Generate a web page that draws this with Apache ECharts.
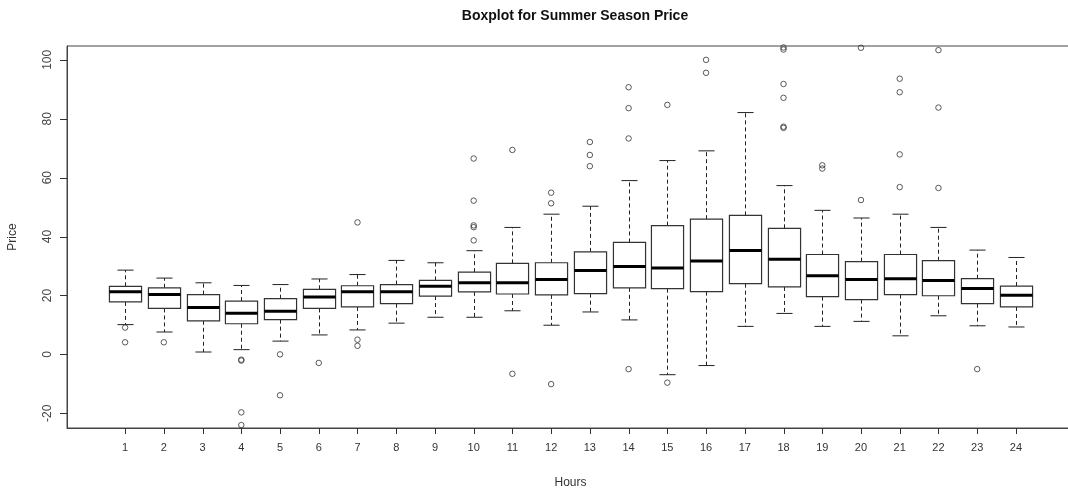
<!DOCTYPE html>
<html>
<head>
<meta charset="utf-8">
<script src="https://cdn.jsdelivr.net/npm/echarts@6/dist/echarts.min.js"></script>
<style>
html,body{margin:0;padding:0;background:#fff;}
#chart{width:1068px;height:490px;}
</style>
</head>
<body>
<div id="chart"></div>
<script>
// Hours (x categories)
const hours = ['1','2','3','4','5','6','7','8','9','10','11','12','13','14','15','16','17','18','19','20','21','22','23','24'];
// Box statistics per hour (Price)
const whiskerLow  = [10.1, 7.6, 0.8, 1.6, 4.5, 6.6, 8.3, 10.6, 12.6, 12.6, 14.8, 9.9, 14.4, 11.7, -6.9, -3.8, 9.5, 13.9, 9.5, 11.2, 6.3, 13.1, 9.7, 9.3];
const quartile1   = [17.8, 15.6, 11.4, 10.4, 11.8, 15.6, 16.1, 17.2, 19.8, 21.2, 20.5, 20.2, 20.6, 22.6, 22.3, 21.3, 24.0, 22.9, 19.6, 18.6, 20.3, 19.9, 17.2, 16.1];
const medians     = [21.3, 20.3, 15.9, 14.0, 14.6, 19.5, 21.3, 21.3, 23.1, 24.3, 24.3, 25.4, 28.5, 29.8, 29.3, 31.7, 35.3, 32.3, 26.7, 25.4, 25.7, 25.1, 22.4, 20.1];
const quartile3   = [23.1, 22.6, 20.3, 18.1, 18.9, 22.1, 23.3, 23.7, 25.1, 27.9, 30.9, 31.1, 34.8, 38.0, 43.7, 45.9, 47.2, 42.8, 33.9, 31.5, 33.9, 31.8, 25.7, 23.2];
const whiskerHigh = [28.6, 25.9, 24.3, 23.4, 23.7, 25.6, 27.1, 31.9, 31.1, 35.2, 43.1, 47.6, 50.3, 59.0, 65.8, 69.1, 82.1, 57.3, 48.9, 46.3, 47.6, 43.1, 35.4, 32.9];
// Outliers per hour
const outliers = [
  [9.1, 4.1],
  [4.1],
  [],
  [-1.8, -2.1, -19.7, -24.0],
  [0.0, -13.9],
  [-2.9],
  [44.8, 5.0, 2.9],
  [],
  [],
  [66.5, 52.2, 43.8, 43.2, 38.7],
  [69.4, -6.6],
  [54.9, 51.3, -10.1],
  [72.1, 67.7, 63.9],
  [90.7, 83.6, 73.3, -5.0],
  [84.7, -9.6],
  [100.0, 95.6],
  [],
  [104.2, 103.5, 91.8, 87.1, 77.3, 76.9],
  [64.2, 63.1],
  [104.1, 52.4],
  [93.6, 89.0, 67.9, 56.8],
  [103.3, 83.8, 56.5],
  [-5.0],
  []
];
const yTicks = [-20, 0, 20, 40, 60, 80, 100];
const yMin = -25, yMax = 104.7;

// one empty slot on each side of the hours, as in the original plot frame
const axisCategories = [''].concat(hours, ['']);
const boxData = hours.map((h, i) => [i + 1, whiskerLow[i], quartile1[i], medians[i], quartile3[i], whiskerHigh[i]]);
const outlierData = [];
hours.forEach((h, i) => outliers[i].forEach(v => outlierData.push([i + 1, v])));

function renderBox(params, api) {
  const x = api.value(0);
  const lo = api.coord([x, api.value(1)]);
  const b1 = api.coord([x, api.value(2)]);
  const md = api.coord([x, api.value(3)]);
  const b3 = api.coord([x, api.value(4)]);
  const hi = api.coord([x, api.value(5)]);
  const w = api.size([1, 0])[0] * 0.83;
  const cx = Math.round(lo[0]) + 0.5;
  const line = '#222';
  return {
    type: 'group',
    children: [
      {type: 'line', shape: {x1: cx, y1: b3[1], x2: cx, y2: hi[1]}, style: {stroke: line, lineWidth: 1, lineDash: [4, 3]}},
      {type: 'line', shape: {x1: cx, y1: b1[1], x2: cx, y2: lo[1]}, style: {stroke: line, lineWidth: 1, lineDash: [4, 3]}},
      {type: 'line', shape: {x1: cx - w / 4, y1: hi[1], x2: cx + w / 4, y2: hi[1]}, style: {stroke: line, lineWidth: 1}},
      {type: 'line', shape: {x1: cx - w / 4, y1: lo[1], x2: cx + w / 4, y2: lo[1]}, style: {stroke: line, lineWidth: 1}},
      {type: 'rect', shape: {x: cx - w / 2, y: b3[1], width: w, height: b1[1] - b3[1]}, style: {fill: '#fff', stroke: '#333', lineWidth: 1.2}},
      {type: 'line', shape: {x1: cx - w / 2, y1: md[1], x2: cx + w / 2, y2: md[1]}, style: {stroke: '#000', lineWidth: 3}}
    ]
  };
}

const gridLeft = 67;
const chart = echarts.init(document.getElementById('chart'), null, {renderer: 'canvas'});
chart.setOption({
  animation: false,
  backgroundColor: '#fff',
  title: {
    text: 'Boxplot for Summer Season Price',
    left: 570, top: 4, textAlign: 'center',
    textStyle: {fontFamily: 'Liberation Sans', fontSize: 14, fontWeight: 'bold', color: '#111'}
  },
  grid: {left: gridLeft, top: 46, right: -6, bottom: 62, show: true, borderColor: '#444', borderWidth: 1,
         backgroundColor: 'transparent', containLabel: false, outerBoundsMode: 'none'},
  xAxis: {
    type: 'category', data: axisCategories, boundaryGap: true, position: 'bottom',
    name: 'Hours', nameLocation: 'middle', nameGap: 49,
    nameTextStyle: {fontFamily: 'Liberation Sans', fontSize: 12, color: '#333'},
    axisLine: {show: true, onZero: false, lineStyle: {color: '#444', width: 1}},
    axisTick: {show: false},
    axisLabel: {interval: 0, margin: 14, fontFamily: 'Liberation Sans', fontSize: 11, color: '#333'},
    splitLine: {show: false}
  },
  yAxis: {
    type: 'value', min: yMin, max: yMax, position: 'left',
    name: 'Price', nameLocation: 'middle', nameGap: 48, nameRotate: 90,
    nameTextStyle: {fontFamily: 'Liberation Sans', fontSize: 12, color: '#333'},
    axisLine: {show: true, onZero: false, lineStyle: {color: '#444', width: 1}},
    axisTick: {show: false},
    axisLabel: {customValues: yTicks, rotate: 90, margin: 13, fontFamily: 'Liberation Sans', fontSize: 12, color: '#444'},
    splitLine: {show: false}
  },
  series: [
    {
      type: 'custom',
      renderItem: renderBox,
      data: boxData,
      dimensions: ['hour', 'low', 'q1', 'median', 'q3', 'high'],
      encode: {x: 0, y: [1, 2, 3, 4, 5]},
      clip: true
    },
    {
      type: 'scatter',
      data: outlierData,
      symbol: 'circle',
      symbolSize: 5.5,
      itemStyle: {color: 'rgba(0,0,0,0)', borderColor: '#333', borderWidth: 1},
      z: 5
    }
  ]
});

// Tick marks on the outside of the frame, positioned through the axis scales
const bottomY = chart.convertToPixel({yAxisIndex: 0}, yMin);
const tickEls = [];
hours.forEach((h, i) => {
  const x = Math.round(chart.convertToPixel({xAxisIndex: 0}, i + 1)) + 0.5;
  tickEls.push({type: 'line', z: 100, silent: true,
    shape: {x1: x, y1: bottomY, x2: x, y2: bottomY + 6}, style: {stroke: '#333', lineWidth: 1}});
});
yTicks.forEach(v => {
  const y = Math.round(chart.convertToPixel({yAxisIndex: 0}, v)) + 0.5;
  tickEls.push({type: 'line', z: 100, silent: true,
    shape: {x1: gridLeft - 7, y1: y, x2: gridLeft, y2: y}, style: {stroke: '#333', lineWidth: 1}});
});
chart.setOption({graphic: {elements: tickEls}});
</script>
</body>
</html>
